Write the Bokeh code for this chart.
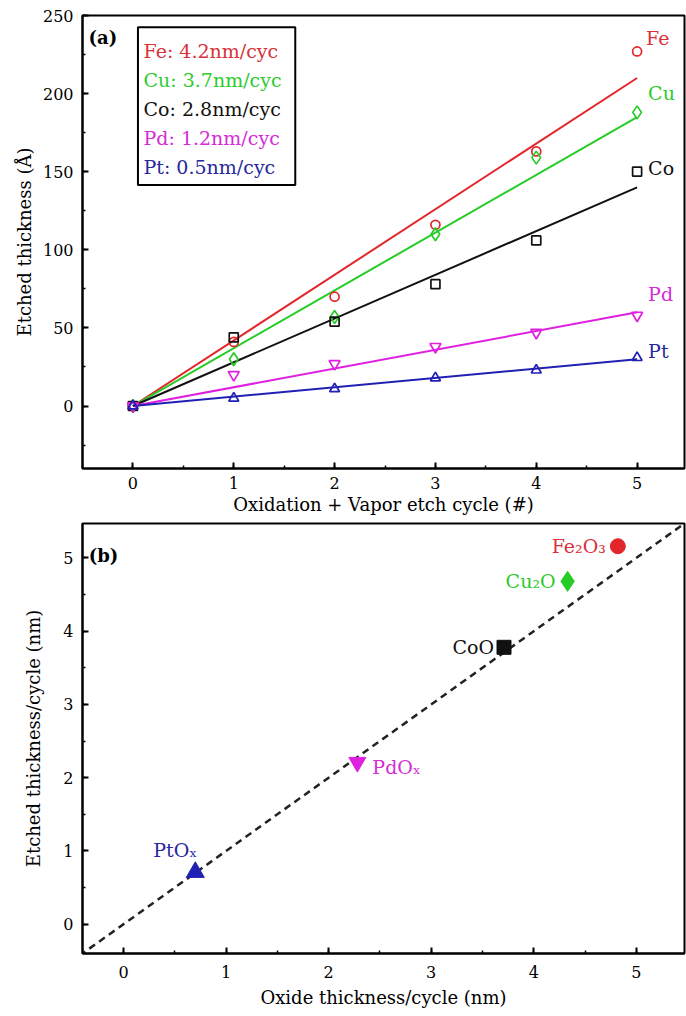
from bokeh.plotting import figure
from bokeh.models import SingleIntervalTicker, Range1d, BoxAnnotation
from bokeh.layouts import column
from bokeh.core.properties import value
from bokeh.embed import file_html
from bokeh.resources import INLINE

# ---------------- data: panel (a) ----------------
cycles = [0, 1, 2, 3, 4, 5]
metals = ["Fe", "Cu", "Co", "Pd", "Pt"]
fe_thk = [0, 41, 70, 116, 163, 227]
cu_thk = [0, 30, 57, 110, 159, 188]
co_thk = [0, 44, 54, 78, 106, 150]
pd_thk = [0, 20, 27, 38, 47, 58]
pt_thk = [0, 5, 11, 18, 23, 31]
fit_slope = [42, 37, 28, 12, 6]          # Å per cycle, fitted lines
rate_nm = [4.2, 3.7, 2.8, 1.2, 0.5]      # legend rates

# ---------------- data: panel (b) ----------------
oxides = ["Fe\u2082O\u2083", "Cu\u2082O", "CoO", "PdO\u2093", "PtO\u2093"]
oxide_thk = [4.82, 4.33, 3.71, 2.28, 0.70]
etched_thk = [5.16, 4.68, 3.78, 2.21, 0.71]
ref_line = [-1, 7]   # y = x reference

# ---------------- styles ----------------
FONT = "DejaVu Serif"
colors = ["#e3262b", "#26cc26", "#111111", "#e020e0", "#2020b4"]
label_colors = ["#d8323a", "#2ccc2c", "#111111", "#d62bd6", "#28289c"]
open_markers = ["circle", "diamond", "square", "inverted_triangle", "triangle"]
open_sizes = [9, 13, 9, 11, 10]
filled_sizes = [15, 20, 14, 17, 18]
lbl_yoff = [-13, -19, -4, -21, -7]
lbl_xoff = [9, 11, 11, 11, 11]
series = [fe_thk, cu_thk, co_thk, pd_thk, pt_thk]


def style(p, xlabel, ylabel, ylab_standoff, xlab_standoff, xstand):
    p.xgrid.visible = False
    p.ygrid.visible = False
    p.outline_line_color = "black"
    p.outline_line_width = 2
    p.outline_line_alpha = 1
    p.background_fill_color = "white"
    p.border_fill_color = "white"
    for ax in (p.xaxis[0], p.yaxis[0]):
        ax.axis_line_width = 2
        ax.axis_line_color = "black"
        ax.major_tick_in = 6
        ax.major_tick_out = 0
        ax.minor_tick_in = 3
        ax.minor_tick_out = 0
        ax.major_tick_line_width = 2
        ax.minor_tick_line_width = 1.5
        ax.major_label_text_font = FONT
        ax.major_label_text_font_size = "16px"
        ax.major_label_text_color = "black"
        ax.axis_label_text_font = FONT
        ax.axis_label_text_font_size = "18px"
        ax.axis_label_text_font_style = "normal"
        ax.axis_label_text_color = "black"
    p.xaxis.axis_label = xlabel
    p.yaxis.axis_label = ylabel
    p.yaxis.major_label_standoff = 9
    p.yaxis.axis_label_standoff = ylab_standoff
    p.xaxis.major_label_standoff = xstand
    p.xaxis.axis_label_standoff = xlab_standoff


# ---------------- panel (a) ----------------
pa = figure(width=686, height=518, output_backend="svg", toolbar_location=None,
            x_range=Range1d(-0.5, 5.47), y_range=Range1d(-40, 250),
            min_border_left=82, min_border_right=2, min_border_top=15, min_border_bottom=50)
pa.xaxis.ticker = SingleIntervalTicker(interval=1, num_minor_ticks=2)
pa.yaxis.ticker = SingleIntervalTicker(interval=50, num_minor_ticks=2)
style(pa, "Oxidation + Vapor etch cycle (#)", "Etched thickness (\u00c5)", 5, 2, 8)

for i, m in enumerate(metals):
    fit = [fit_slope[i] * c for c in [cycles[0], cycles[-1]]]
    pa.line([cycles[0], cycles[-1]], fit, line_color=colors[i], line_width=2)
for i, m in enumerate(metals):
    pa.scatter(cycles, series[i], marker=open_markers[i], size=open_sizes[i],
               fill_color=None, line_color=colors[i], line_width=1.7)
    pa.text([cycles[-1]], [series[i][-1]], text=[m], x_offset=lbl_xoff[i], y_offset=lbl_yoff[i],
            text_font=value(FONT), text_font_size="19px", text_color=label_colors[i],
            text_baseline="middle", text_align="left")

# legend box (a)
pa.add_layout(BoxAnnotation(left=0.05, right=1.61, bottom=141.5, top=242.5,
                            fill_alpha=0, line_color="black", line_alpha=1, line_width=2))
leg_y = [227.5, 208.5, 190, 171.5, 153]
for i, m in enumerate(metals):
    pa.text([0.105], [leg_y[i]], text=[f"{m}: {rate_nm[i]}nm/cyc"],
            text_font=value(FONT), text_font_size="19px", text_color=label_colors[i],
            text_baseline="middle", text_align="left")
pa.text([-0.44], [236], text=["(a)"], text_font=value(FONT), text_font_size="18px",
        text_font_style="bold", text_color="black", text_baseline="middle", text_align="left")

# ---------------- panel (b) ----------------
pb = figure(width=686, height=498, output_backend="svg", toolbar_location=None,
            x_range=Range1d(-0.4, 5.47), y_range=Range1d(-0.4, 5.47),
            min_border_left=82, min_border_right=2, min_border_top=5, min_border_bottom=63)
pb.xaxis.ticker = SingleIntervalTicker(interval=1, num_minor_ticks=2)
pb.yaxis.ticker = SingleIntervalTicker(interval=1, num_minor_ticks=2)
style(pb, "Oxide thickness/cycle (nm)", "Etched thickness/cycle (nm)", 16, 6, 12)

pb.line(ref_line, ref_line, line_color="#222222", line_width=2.5, line_dash="7 5")
filled_markers = ["circle", "diamond", "square", "inverted_triangle", "triangle"]
for i in range(len(oxides)):
    pb.scatter([oxide_thk[i]], [etched_thk[i]], marker=filled_markers[i], size=filled_sizes[i],
               fill_color=colors[i], line_color=colors[i])

ox_xoff = [-12, -12, -10, 15, 2]
ox_yoff = [0, 0, 0, 5, -22]
ox_align = ["right", "right", "right", "left", "right"]
for i in range(len(oxides)):
    pb.text([oxide_thk[i]], [etched_thk[i]], text=[oxides[i]], x_offset=ox_xoff[i],
            y_offset=ox_yoff[i], text_font=value(FONT), text_font_size="19px",
            text_color=label_colors[i], text_baseline="middle", text_align=ox_align[i])
pb.text([-0.34], [5.03], text=["(b)"], text_font=value(FONT), text_font_size="18px",
        text_font_style="bold", text_color="black", text_baseline="middle", text_align="left")

layout = column(pa, pb, spacing=0)
open("out.html", "w").write(file_html(layout, INLINE))
